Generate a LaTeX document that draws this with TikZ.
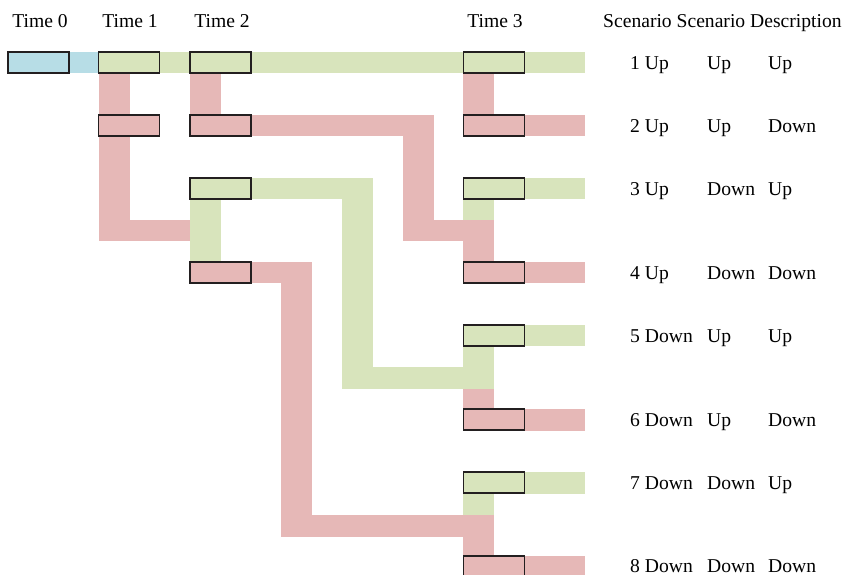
\documentclass[tikz,border=0pt]{standalone}
\usepackage{fontspec}
\setmainfont{Liberation Serif}
\definecolor{bluec}{HTML}{B7DDE6}
\definecolor{greenc}{HTML}{D8E4BC}
\definecolor{pinkc}{HTML}{E6B8B7}
\definecolor{edgec}{HTML}{231F20}
\begin{document}
\begin{tikzpicture}[x=1pt,y=-1pt,
  box/.style={draw=edgec,line width=1.5pt,minimum width=61pt,minimum height=21pt,inner sep=0pt,outer sep=0pt},
  lbl/.style={inner sep=0pt,anchor=base west,font=\fontsize{19.6}{22}\selectfont},
  hdr/.style={inner sep=0pt,anchor=base,font=\fontsize{19.6}{22}\selectfont}]
\useasboundingbox (0,0) rectangle (843,574);
\begin{scope}
\clip (0,0) rectangle (843,574);
% blue
\fill[bluec] (8,52) rectangle (98,73);
% green bands
\fill[greenc] (98,52) rectangle (585,73);
\fill[greenc] (190,178) rectangle (373,199);
\fill[greenc] (342,178) rectangle (373,389);
\fill[greenc] (342,367) rectangle (494,389);
\fill[greenc] (463,346) rectangle (494,367);
\fill[greenc] (190,199) rectangle (221,262);
\fill[greenc] (464,178) rectangle (585,199);
\fill[greenc] (463,199) rectangle (494,220);
\fill[greenc] (464,325) rectangle (585,346);
\fill[greenc] (464,472) rectangle (585,494);
\fill[greenc] (463,494) rectangle (494,515);
% pink bands
\fill[pinkc] (99,73) rectangle (130,241);
\fill[pinkc] (99,220) rectangle (190,241);
\fill[pinkc] (190,73) rectangle (221,115);
\fill[pinkc] (190,115) rectangle (434,136);
\fill[pinkc] (403,115) rectangle (434,241);
\fill[pinkc] (403,220) rectangle (494,241);
\fill[pinkc] (463,241) rectangle (494,262);
\fill[pinkc] (463,73) rectangle (494,115);
\fill[pinkc] (464,115) rectangle (585,136);
\fill[pinkc] (251,262) rectangle (312,283);
\fill[pinkc] (281,262) rectangle (312,537);
\fill[pinkc] (281,515) rectangle (494,537);
\fill[pinkc] (463,537) rectangle (494,556);
\fill[pinkc] (464,262) rectangle (585,283);
\fill[pinkc] (463,389) rectangle (494,409);
\fill[pinkc] (464,409) rectangle (585,431);
\fill[pinkc] (464,556) rectangle (585,578);
% boxes
\node[box,fill=bluec] (t0) at (38.5,62.5) {};
\node[box,fill=greenc] (t1u) at (129,62.5) {};
\node[box,fill=pinkc] (t1d) at (129,125.5) {};
\node[box,fill=greenc] (t2a) at (220.5,62.5) {};
\node[box,fill=pinkc] (t2b) at (220.5,125.5) {};
\node[box,fill=greenc] (t2c) at (220.5,188.5) {};
\node[box,fill=pinkc] (t2d) at (220.5,272.5) {};
\node[box,fill=greenc] (s1) at (494,62.5) {};
\node[box,fill=pinkc] (s2) at (494,125.5) {};
\node[box,fill=greenc] (s3) at (494,188.5) {};
\node[box,fill=pinkc] (s4) at (494,272.5) {};
\node[box,fill=greenc] (s5) at (494,335.5) {};
\node[box,fill=pinkc] (s6) at (494,419.5) {};
\node[box,fill=greenc] (s7) at (494,482.5) {};
\node[box,fill=pinkc] (s8) at (494,566.5) {};
\end{scope}
% headers
\node[hdr] (h0) at (40,27) {Time 0};
\node[hdr] (h1) at (130,27) {Time 1};
\node[hdr] (h2) at (222,27) {Time 2};
\node[hdr] (h3) at (495,27) {Time 3};
\node[lbl] (hs) at (603,27) {Scenario Scenario Description};
% rows
\foreach \n/\y/\a/\b/\c in {1/69/Up/Up/Up,2/132/Up/Up/Down,3/195/Up/Down/Up,4/279/Up/Down/Down,5/342/Down/Up/Up,6/426/Down/Up/Down,7/489/Down/Down/Up,8/572/Down/Down/Down}{
  \node[lbl] (r\n a) at (630,\y) {\n\ \a};
  \node[lbl] (r\n b) at (707,\y) {\b};
  \node[lbl] (r\n c) at (768,\y) {\c};
}
\end{tikzpicture}
\end{document}
